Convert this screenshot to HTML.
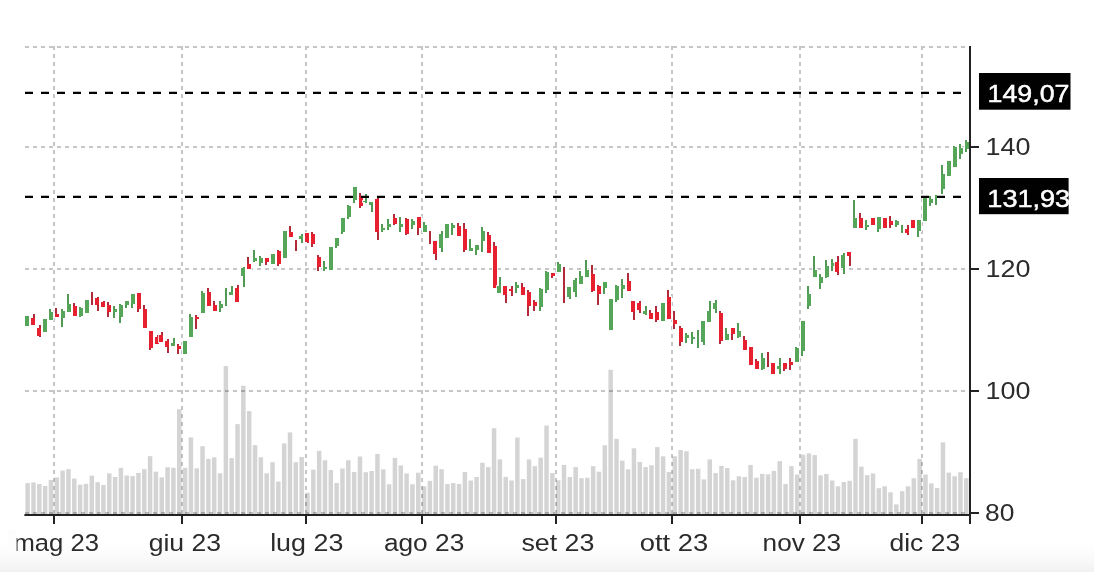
<!DOCTYPE html>
<html lang="it"><head><meta charset="utf-8"><title>Grafico</title>
<style>html,body{margin:0;padding:0;background:#fff}body{width:1094px;height:572px;overflow:hidden}svg{display:block}text{font-family:"Liberation Sans",sans-serif;font-size:24px;fill:#2b2b2b}.b{fill:#fff;stroke:#fff;stroke-width:0.5px}</style>
</head><body>
<svg width="1094" height="572" viewBox="0 0 1094 572">
<defs><linearGradient id="fade" x1="0" y1="0" x2="0" y2="1"><stop offset="0" stop-color="#fff" stop-opacity="0"/><stop offset="1" stop-color="#f1f1f1"/></linearGradient></defs>
<rect width="1094" height="572" fill="#fff"/>
<rect x="0" y="536" width="1094" height="36" fill="url(#fade)"/>
<g stroke="#c6c6c6" stroke-width="2" stroke-dasharray="4 4" shape-rendering="crispEdges" fill="none">
<line x1="25" y1="47" x2="969" y2="47"/>
<line x1="25" y1="147" x2="969" y2="147"/>
<line x1="25" y1="269" x2="969" y2="269"/>
<line x1="25" y1="391" x2="969" y2="391"/>
<line x1="25" y1="513" x2="969" y2="513"/>
<line x1="54" y1="46" x2="54" y2="515"/>
<line x1="182" y1="46" x2="182" y2="515"/>
<line x1="306" y1="46" x2="306" y2="515"/>
<line x1="422" y1="46" x2="422" y2="515"/>
<line x1="556" y1="46" x2="556" y2="515"/>
<line x1="672" y1="46" x2="672" y2="515"/>
<line x1="800" y1="46" x2="800" y2="515"/>
<line x1="922" y1="46" x2="922" y2="515"/>
</g>
<g fill="#000" fill-opacity="0.17">
<rect x="25.40" y="483.1" width="4.5" height="31.9"/>
<rect x="31.23" y="482.4" width="4.5" height="32.6"/>
<rect x="37.06" y="484.0" width="4.5" height="31.0"/>
<rect x="42.89" y="486.0" width="4.5" height="29.0"/>
<rect x="48.72" y="479.9" width="4.5" height="35.1"/>
<rect x="54.55" y="477.4" width="4.5" height="37.6"/>
<rect x="60.38" y="470.6" width="4.5" height="44.4"/>
<rect x="66.21" y="469.1" width="4.5" height="45.9"/>
<rect x="72.04" y="478.5" width="4.5" height="36.5"/>
<rect x="77.87" y="484.7" width="4.5" height="30.3"/>
<rect x="83.70" y="483.8" width="4.5" height="31.2"/>
<rect x="89.53" y="475.7" width="4.5" height="39.3"/>
<rect x="95.36" y="482.1" width="4.5" height="32.9"/>
<rect x="101.19" y="484.9" width="4.5" height="30.1"/>
<rect x="107.02" y="473.4" width="4.5" height="41.6"/>
<rect x="112.85" y="477.0" width="4.5" height="38.0"/>
<rect x="118.68" y="467.8" width="4.5" height="47.2"/>
<rect x="124.51" y="475.5" width="4.5" height="39.5"/>
<rect x="130.34" y="476.1" width="4.5" height="38.9"/>
<rect x="136.17" y="472.9" width="4.5" height="42.1"/>
<rect x="142.00" y="469.1" width="4.5" height="45.9"/>
<rect x="147.83" y="456.1" width="4.5" height="58.9"/>
<rect x="153.66" y="471.7" width="4.5" height="43.3"/>
<rect x="159.49" y="477.4" width="4.5" height="37.6"/>
<rect x="165.32" y="467.2" width="4.5" height="47.8"/>
<rect x="171.15" y="467.8" width="4.5" height="47.2"/>
<rect x="176.98" y="409.2" width="4.5" height="105.8"/>
<rect x="182.81" y="467.8" width="4.5" height="47.2"/>
<rect x="188.64" y="437.4" width="4.5" height="77.6"/>
<rect x="194.47" y="468.3" width="4.5" height="46.7"/>
<rect x="200.30" y="446.2" width="4.5" height="68.8"/>
<rect x="206.13" y="458.9" width="4.5" height="56.1"/>
<rect x="211.96" y="457.3" width="4.5" height="57.7"/>
<rect x="217.79" y="473.3" width="4.5" height="41.7"/>
<rect x="223.62" y="366.1" width="4.5" height="148.9"/>
<rect x="229.45" y="458.1" width="4.5" height="56.9"/>
<rect x="235.28" y="424.1" width="4.5" height="90.9"/>
<rect x="241.11" y="385.7" width="4.5" height="129.3"/>
<rect x="246.94" y="411.1" width="4.5" height="103.9"/>
<rect x="252.77" y="445.1" width="4.5" height="69.9"/>
<rect x="258.60" y="457.3" width="4.5" height="57.7"/>
<rect x="264.43" y="473.3" width="4.5" height="41.7"/>
<rect x="270.26" y="462.2" width="4.5" height="52.8"/>
<rect x="276.09" y="481.6" width="4.5" height="33.4"/>
<rect x="281.92" y="443.4" width="4.5" height="71.6"/>
<rect x="287.75" y="432.4" width="4.5" height="82.6"/>
<rect x="293.58" y="462.2" width="4.5" height="52.8"/>
<rect x="299.41" y="457.0" width="4.5" height="58.0"/>
<rect x="305.24" y="492.7" width="4.5" height="22.3"/>
<rect x="311.07" y="469.7" width="4.5" height="45.3"/>
<rect x="316.90" y="450.8" width="4.5" height="64.2"/>
<rect x="322.73" y="460.2" width="4.5" height="54.8"/>
<rect x="328.56" y="470.0" width="4.5" height="45.0"/>
<rect x="334.39" y="483.0" width="4.5" height="32.0"/>
<rect x="340.22" y="468.5" width="4.5" height="46.5"/>
<rect x="346.05" y="460.2" width="4.5" height="54.8"/>
<rect x="351.88" y="471.9" width="4.5" height="43.1"/>
<rect x="357.71" y="456.5" width="4.5" height="58.5"/>
<rect x="363.54" y="472.2" width="4.5" height="42.8"/>
<rect x="369.37" y="471.0" width="4.5" height="44.0"/>
<rect x="375.20" y="453.9" width="4.5" height="61.1"/>
<rect x="381.03" y="469.3" width="4.5" height="45.7"/>
<rect x="386.86" y="484.2" width="4.5" height="30.8"/>
<rect x="392.69" y="458.0" width="4.5" height="57.0"/>
<rect x="398.52" y="465.4" width="4.5" height="49.6"/>
<rect x="404.35" y="473.4" width="4.5" height="41.6"/>
<rect x="410.18" y="484.2" width="4.5" height="30.8"/>
<rect x="416.01" y="472.7" width="4.5" height="42.3"/>
<rect x="421.84" y="486.3" width="4.5" height="28.7"/>
<rect x="427.67" y="480.8" width="4.5" height="34.2"/>
<rect x="433.50" y="465.7" width="4.5" height="49.3"/>
<rect x="439.33" y="469.2" width="4.5" height="45.8"/>
<rect x="445.16" y="483.9" width="4.5" height="31.1"/>
<rect x="450.99" y="483.0" width="4.5" height="32.0"/>
<rect x="456.82" y="483.9" width="4.5" height="31.1"/>
<rect x="462.65" y="471.9" width="4.5" height="43.1"/>
<rect x="468.48" y="480.5" width="4.5" height="34.5"/>
<rect x="474.31" y="477.0" width="4.5" height="38.0"/>
<rect x="480.14" y="462.8" width="4.5" height="52.2"/>
<rect x="485.97" y="467.1" width="4.5" height="47.9"/>
<rect x="491.80" y="428.2" width="4.5" height="86.8"/>
<rect x="497.63" y="459.4" width="4.5" height="55.6"/>
<rect x="503.46" y="476.9" width="4.5" height="38.1"/>
<rect x="509.29" y="480.5" width="4.5" height="34.5"/>
<rect x="515.12" y="437.5" width="4.5" height="77.5"/>
<rect x="520.95" y="479.1" width="4.5" height="35.9"/>
<rect x="526.78" y="459.4" width="4.5" height="55.6"/>
<rect x="532.61" y="466.2" width="4.5" height="48.8"/>
<rect x="538.44" y="457.7" width="4.5" height="57.3"/>
<rect x="544.27" y="425.5" width="4.5" height="89.5"/>
<rect x="550.10" y="473.1" width="4.5" height="41.9"/>
<rect x="555.93" y="480.3" width="4.5" height="34.7"/>
<rect x="561.76" y="464.9" width="4.5" height="50.1"/>
<rect x="567.59" y="477.0" width="4.5" height="38.0"/>
<rect x="573.42" y="467.1" width="4.5" height="47.9"/>
<rect x="579.25" y="478.2" width="4.5" height="36.8"/>
<rect x="585.08" y="477.7" width="4.5" height="37.3"/>
<rect x="590.91" y="466.2" width="4.5" height="48.8"/>
<rect x="596.74" y="471.7" width="4.5" height="43.3"/>
<rect x="602.57" y="445.2" width="4.5" height="69.8"/>
<rect x="608.40" y="369.8" width="4.5" height="145.2"/>
<rect x="614.23" y="438.8" width="4.5" height="76.2"/>
<rect x="620.06" y="460.6" width="4.5" height="54.4"/>
<rect x="625.89" y="469.3" width="4.5" height="45.7"/>
<rect x="631.72" y="448.3" width="4.5" height="66.7"/>
<rect x="637.55" y="462.0" width="4.5" height="53.0"/>
<rect x="643.38" y="467.1" width="4.5" height="47.9"/>
<rect x="649.21" y="465.2" width="4.5" height="49.8"/>
<rect x="655.04" y="447.1" width="4.5" height="67.9"/>
<rect x="660.87" y="456.3" width="4.5" height="58.7"/>
<rect x="666.70" y="471.9" width="4.5" height="43.1"/>
<rect x="672.53" y="456.3" width="4.5" height="58.7"/>
<rect x="678.36" y="450.0" width="4.5" height="65.0"/>
<rect x="684.19" y="451.3" width="4.5" height="63.7"/>
<rect x="690.02" y="469.2" width="4.5" height="45.8"/>
<rect x="695.85" y="468.8" width="4.5" height="46.2"/>
<rect x="701.68" y="479.4" width="4.5" height="35.6"/>
<rect x="707.51" y="459.4" width="4.5" height="55.6"/>
<rect x="713.34" y="473.1" width="4.5" height="41.9"/>
<rect x="719.17" y="465.9" width="4.5" height="49.1"/>
<rect x="725.00" y="468.0" width="4.5" height="47.0"/>
<rect x="730.83" y="480.3" width="4.5" height="34.7"/>
<rect x="736.66" y="476.2" width="4.5" height="38.8"/>
<rect x="742.49" y="477.0" width="4.5" height="38.0"/>
<rect x="748.32" y="465.0" width="4.5" height="50.0"/>
<rect x="754.15" y="477.7" width="4.5" height="37.3"/>
<rect x="759.98" y="473.9" width="4.5" height="41.1"/>
<rect x="765.81" y="474.3" width="4.5" height="40.7"/>
<rect x="771.64" y="470.9" width="4.5" height="44.1"/>
<rect x="777.47" y="461.1" width="4.5" height="53.9"/>
<rect x="783.30" y="483.9" width="4.5" height="31.1"/>
<rect x="789.13" y="466.2" width="4.5" height="48.8"/>
<rect x="794.96" y="474.5" width="4.5" height="40.5"/>
<rect x="800.79" y="454.6" width="4.5" height="60.4"/>
<rect x="806.62" y="453.4" width="4.5" height="61.6"/>
<rect x="812.45" y="455.1" width="4.5" height="59.9"/>
<rect x="818.28" y="475.3" width="4.5" height="39.7"/>
<rect x="824.11" y="473.9" width="4.5" height="41.1"/>
<rect x="829.94" y="480.5" width="4.5" height="34.5"/>
<rect x="835.77" y="486.3" width="4.5" height="28.7"/>
<rect x="841.60" y="482.0" width="4.5" height="33.0"/>
<rect x="847.43" y="480.8" width="4.5" height="34.2"/>
<rect x="853.26" y="438.8" width="4.5" height="76.2"/>
<rect x="859.09" y="466.6" width="4.5" height="48.4"/>
<rect x="864.92" y="475.1" width="4.5" height="39.9"/>
<rect x="870.75" y="473.4" width="4.5" height="41.6"/>
<rect x="876.58" y="488.2" width="4.5" height="26.8"/>
<rect x="882.41" y="486.3" width="4.5" height="28.7"/>
<rect x="888.24" y="492.3" width="4.5" height="22.7"/>
<rect x="894.07" y="504.4" width="4.5" height="10.6"/>
<rect x="899.90" y="491.1" width="4.5" height="23.9"/>
<rect x="905.73" y="486.3" width="4.5" height="28.7"/>
<rect x="911.56" y="478.2" width="4.5" height="36.8"/>
<rect x="917.39" y="458.9" width="4.5" height="56.1"/>
<rect x="923.22" y="474.5" width="4.5" height="40.5"/>
<rect x="929.05" y="483.4" width="4.5" height="31.6"/>
<rect x="934.88" y="488.0" width="4.5" height="27.0"/>
<rect x="940.71" y="442.3" width="4.5" height="72.7"/>
<rect x="946.54" y="472.6" width="4.5" height="42.4"/>
<rect x="952.37" y="476.2" width="4.5" height="38.8"/>
<rect x="958.20" y="472.2" width="4.5" height="42.8"/>
<rect x="964.03" y="478.2" width="4.5" height="36.8"/>
</g>
<g shape-rendering="crispEdges">
<rect x="26" y="315.0" width="4" height="12.2" fill="#fff" fill-opacity="0.8"/>
<rect x="24" y="315.0" width="6" height="11.6" fill="#fff" fill-opacity="0.8"/>
<rect x="27" y="316.0" width="2" height="10.2" fill="#509a55"/>
<rect x="25" y="316.0" width="4" height="9.6" fill="#55a658"/>
<rect x="32" y="313.1" width="4" height="12.6" fill="#fff" fill-opacity="0.8"/>
<rect x="30" y="316.9" width="6" height="8.8" fill="#fff" fill-opacity="0.8"/>
<rect x="33" y="314.1" width="2" height="10.6" fill="#b02a3a"/>
<rect x="31" y="317.9" width="4" height="6.8" fill="#e6202f"/>
<rect x="38" y="324.2" width="4" height="13.5" fill="#fff" fill-opacity="0.8"/>
<rect x="36" y="326.5" width="6" height="10.7" fill="#fff" fill-opacity="0.8"/>
<rect x="39" y="325.2" width="2" height="11.5" fill="#b02a3a"/>
<rect x="37" y="327.5" width="4" height="8.7" fill="#e6202f"/>
<rect x="42" y="317.8" width="4" height="15.6" fill="#fff" fill-opacity="0.8"/>
<rect x="42" y="317.8" width="6" height="15.6" fill="#fff" fill-opacity="0.8"/>
<rect x="43" y="318.8" width="2" height="13.6" fill="#509a55"/>
<rect x="43" y="318.8" width="4" height="13.6" fill="#55a658"/>
<rect x="48" y="308.3" width="4" height="12.3" fill="#fff" fill-opacity="0.8"/>
<rect x="48" y="310.5" width="6" height="10.1" fill="#fff" fill-opacity="0.8"/>
<rect x="49" y="309.3" width="2" height="10.3" fill="#509a55"/>
<rect x="49" y="311.5" width="4" height="8.1" fill="#55a658"/>
<rect x="54" y="306.9" width="4" height="10.7" fill="#fff" fill-opacity="0.8"/>
<rect x="54" y="313.1" width="6" height="4.9" fill="#fff" fill-opacity="0.8"/>
<rect x="55" y="307.9" width="2" height="8.7" fill="#b02a3a"/>
<rect x="55" y="314.1" width="4" height="2.9" fill="#e6202f"/>
<rect x="60" y="308.2" width="4" height="19.7" fill="#fff" fill-opacity="0.8"/>
<rect x="60" y="309.5" width="6" height="9.0" fill="#fff" fill-opacity="0.8"/>
<rect x="61" y="309.2" width="2" height="17.7" fill="#509a55"/>
<rect x="61" y="310.5" width="4" height="7.0" fill="#55a658"/>
<rect x="66" y="293.2" width="4" height="19.3" fill="#fff" fill-opacity="0.8"/>
<rect x="66" y="302.8" width="6" height="9.7" fill="#fff" fill-opacity="0.8"/>
<rect x="67" y="294.2" width="2" height="17.3" fill="#509a55"/>
<rect x="67" y="303.8" width="4" height="7.7" fill="#55a658"/>
<rect x="72" y="302.2" width="4" height="15.2" fill="#fff" fill-opacity="0.8"/>
<rect x="72" y="304.8" width="6" height="12.6" fill="#fff" fill-opacity="0.8"/>
<rect x="73" y="303.2" width="2" height="13.2" fill="#b02a3a"/>
<rect x="73" y="305.8" width="4" height="10.6" fill="#e6202f"/>
<rect x="78" y="306.0" width="4" height="11.9" fill="#fff" fill-opacity="0.8"/>
<rect x="78" y="306.7" width="6" height="10.3" fill="#fff" fill-opacity="0.8"/>
<rect x="79" y="307.0" width="2" height="9.9" fill="#509a55"/>
<rect x="79" y="307.7" width="4" height="8.3" fill="#55a658"/>
<rect x="84" y="299.3" width="4" height="14.9" fill="#fff" fill-opacity="0.8"/>
<rect x="84" y="299.3" width="6" height="14.9" fill="#fff" fill-opacity="0.8"/>
<rect x="85" y="300.3" width="2" height="12.9" fill="#509a55"/>
<rect x="85" y="300.3" width="4" height="12.9" fill="#55a658"/>
<rect x="90" y="291.3" width="4" height="14.2" fill="#fff" fill-opacity="0.8"/>
<rect x="91" y="292.3" width="2" height="12.2" fill="#b02a3a"/>
<rect x="96" y="295.8" width="4" height="16.1" fill="#fff" fill-opacity="0.8"/>
<rect x="94" y="296.8" width="6" height="9.3" fill="#fff" fill-opacity="0.8"/>
<rect x="97" y="296.8" width="2" height="14.1" fill="#b02a3a"/>
<rect x="95" y="297.8" width="4" height="7.3" fill="#e6202f"/>
<rect x="102" y="299.9" width="4" height="7.8" fill="#fff" fill-opacity="0.8"/>
<rect x="100" y="300.9" width="6" height="6.8" fill="#fff" fill-opacity="0.8"/>
<rect x="103" y="300.9" width="2" height="5.8" fill="#b02a3a"/>
<rect x="101" y="301.9" width="4" height="4.8" fill="#e6202f"/>
<rect x="106" y="300.9" width="4" height="17.0" fill="#fff" fill-opacity="0.8"/>
<rect x="106" y="304.1" width="6" height="8.4" fill="#fff" fill-opacity="0.8"/>
<rect x="107" y="301.9" width="2" height="15.0" fill="#b02a3a"/>
<rect x="107" y="305.1" width="4" height="6.4" fill="#e6202f"/>
<rect x="112" y="305.4" width="4" height="13.1" fill="#fff" fill-opacity="0.8"/>
<rect x="112" y="308.2" width="6" height="4.3" fill="#fff" fill-opacity="0.8"/>
<rect x="113" y="306.4" width="2" height="11.1" fill="#509a55"/>
<rect x="113" y="309.2" width="4" height="2.3" fill="#55a658"/>
<rect x="118" y="303.2" width="4" height="21.1" fill="#fff" fill-opacity="0.8"/>
<rect x="118" y="304.1" width="6" height="13.8" fill="#fff" fill-opacity="0.8"/>
<rect x="119" y="304.2" width="2" height="19.1" fill="#509a55"/>
<rect x="119" y="305.1" width="4" height="11.8" fill="#55a658"/>
<rect x="124" y="300.3" width="4" height="8.4" fill="#fff" fill-opacity="0.8"/>
<rect x="124" y="300.3" width="6" height="5.8" fill="#fff" fill-opacity="0.8"/>
<rect x="125" y="301.3" width="2" height="6.4" fill="#509a55"/>
<rect x="125" y="301.3" width="4" height="3.8" fill="#55a658"/>
<rect x="130" y="293.0" width="4" height="16.3" fill="#fff" fill-opacity="0.8"/>
<rect x="130" y="293.0" width="6" height="11.8" fill="#fff" fill-opacity="0.8"/>
<rect x="131" y="294.0" width="2" height="14.3" fill="#509a55"/>
<rect x="131" y="294.0" width="4" height="9.8" fill="#55a658"/>
<rect x="136" y="292.0" width="4" height="21.4" fill="#fff" fill-opacity="0.8"/>
<rect x="136" y="292.0" width="6" height="18.0" fill="#fff" fill-opacity="0.8"/>
<rect x="137" y="293.0" width="2" height="19.4" fill="#b02a3a"/>
<rect x="137" y="293.0" width="4" height="16.0" fill="#e6202f"/>
<rect x="142" y="304.1" width="4" height="24.4" fill="#fff" fill-opacity="0.8"/>
<rect x="142" y="307.6" width="6" height="20.9" fill="#fff" fill-opacity="0.8"/>
<rect x="143" y="305.1" width="2" height="22.4" fill="#b02a3a"/>
<rect x="143" y="308.6" width="4" height="18.9" fill="#e6202f"/>
<rect x="148" y="330.1" width="4" height="20.4" fill="#fff" fill-opacity="0.8"/>
<rect x="148" y="330.1" width="6" height="18.9" fill="#fff" fill-opacity="0.8"/>
<rect x="149" y="331.1" width="2" height="18.4" fill="#b02a3a"/>
<rect x="149" y="331.1" width="4" height="16.9" fill="#e6202f"/>
<rect x="156" y="333.5" width="4" height="11.0" fill="#fff" fill-opacity="0.8"/>
<rect x="154" y="336.1" width="6" height="8.4" fill="#fff" fill-opacity="0.8"/>
<rect x="157" y="334.5" width="2" height="9.0" fill="#b02a3a"/>
<rect x="155" y="337.1" width="4" height="6.4" fill="#e6202f"/>
<rect x="160" y="331.4" width="4" height="11.8" fill="#fff" fill-opacity="0.8"/>
<rect x="158" y="334.3" width="6" height="8.9" fill="#fff" fill-opacity="0.8"/>
<rect x="161" y="332.4" width="2" height="9.8" fill="#b02a3a"/>
<rect x="159" y="335.3" width="4" height="6.9" fill="#e6202f"/>
<rect x="166" y="338.0" width="4" height="15.5" fill="#fff" fill-opacity="0.8"/>
<rect x="164" y="340.0" width="6" height="7.7" fill="#fff" fill-opacity="0.8"/>
<rect x="167" y="339.0" width="2" height="13.5" fill="#b02a3a"/>
<rect x="165" y="341.0" width="4" height="5.7" fill="#e6202f"/>
<rect x="172" y="336.7" width="4" height="10.4" fill="#fff" fill-opacity="0.8"/>
<rect x="170" y="341.9" width="6" height="5.2" fill="#fff" fill-opacity="0.8"/>
<rect x="173" y="337.7" width="2" height="8.4" fill="#509a55"/>
<rect x="171" y="342.9" width="4" height="3.2" fill="#55a658"/>
<rect x="176" y="342.5" width="4" height="12.9" fill="#fff" fill-opacity="0.8"/>
<rect x="176" y="344.8" width="6" height="4.8" fill="#fff" fill-opacity="0.8"/>
<rect x="177" y="343.5" width="2" height="10.9" fill="#b02a3a"/>
<rect x="177" y="345.8" width="4" height="2.8" fill="#e6202f"/>
<rect x="182" y="340.0" width="4" height="15.4" fill="#fff" fill-opacity="0.8"/>
<rect x="182" y="340.0" width="6" height="15.4" fill="#fff" fill-opacity="0.8"/>
<rect x="183" y="341.0" width="2" height="13.4" fill="#509a55"/>
<rect x="183" y="341.0" width="4" height="13.4" fill="#55a658"/>
<rect x="188" y="312.7" width="4" height="25.0" fill="#fff" fill-opacity="0.8"/>
<rect x="188" y="316.0" width="6" height="21.7" fill="#fff" fill-opacity="0.8"/>
<rect x="189" y="313.7" width="2" height="23.0" fill="#509a55"/>
<rect x="189" y="317.0" width="4" height="19.7" fill="#55a658"/>
<rect x="194" y="313.7" width="4" height="15.8" fill="#fff" fill-opacity="0.8"/>
<rect x="194" y="316.0" width="6" height="4.2" fill="#fff" fill-opacity="0.8"/>
<rect x="195" y="314.7" width="2" height="13.8" fill="#b02a3a"/>
<rect x="195" y="317.0" width="4" height="2.2" fill="#e6202f"/>
<rect x="200" y="290.4" width="4" height="24.0" fill="#fff" fill-opacity="0.8"/>
<rect x="200" y="291.7" width="6" height="22.7" fill="#fff" fill-opacity="0.8"/>
<rect x="201" y="291.4" width="2" height="22.0" fill="#509a55"/>
<rect x="201" y="292.7" width="4" height="20.7" fill="#55a658"/>
<rect x="206" y="286.6" width="4" height="20.8" fill="#fff" fill-opacity="0.8"/>
<rect x="206" y="291.3" width="6" height="16.1" fill="#fff" fill-opacity="0.8"/>
<rect x="207" y="287.6" width="2" height="18.8" fill="#b02a3a"/>
<rect x="207" y="292.3" width="4" height="14.1" fill="#e6202f"/>
<rect x="212" y="299.6" width="4" height="11.9" fill="#fff" fill-opacity="0.8"/>
<rect x="212" y="303.5" width="6" height="8.0" fill="#fff" fill-opacity="0.8"/>
<rect x="213" y="300.6" width="2" height="9.9" fill="#b02a3a"/>
<rect x="213" y="304.5" width="4" height="6.0" fill="#e6202f"/>
<rect x="218" y="300.3" width="4" height="13.1" fill="#fff" fill-opacity="0.8"/>
<rect x="218" y="302.8" width="6" height="6.5" fill="#fff" fill-opacity="0.8"/>
<rect x="219" y="301.3" width="2" height="11.1" fill="#509a55"/>
<rect x="219" y="303.8" width="4" height="4.5" fill="#55a658"/>
<rect x="224" y="286.8" width="4" height="19.7" fill="#fff" fill-opacity="0.8"/>
<rect x="225" y="287.8" width="2" height="17.7" fill="#509a55"/>
<rect x="230" y="285.3" width="4" height="11.0" fill="#fff" fill-opacity="0.8"/>
<rect x="228" y="291.3" width="6" height="4.6" fill="#fff" fill-opacity="0.8"/>
<rect x="231" y="286.3" width="2" height="9.0" fill="#509a55"/>
<rect x="229" y="292.3" width="4" height="2.6" fill="#55a658"/>
<rect x="236" y="284.3" width="4" height="18.9" fill="#fff" fill-opacity="0.8"/>
<rect x="234" y="286.6" width="6" height="16.1" fill="#fff" fill-opacity="0.8"/>
<rect x="237" y="285.3" width="2" height="16.9" fill="#b02a3a"/>
<rect x="235" y="287.6" width="4" height="14.1" fill="#e6202f"/>
<rect x="242" y="266.1" width="4" height="21.4" fill="#fff" fill-opacity="0.8"/>
<rect x="240" y="267.4" width="6" height="9.9" fill="#fff" fill-opacity="0.8"/>
<rect x="243" y="267.1" width="2" height="19.4" fill="#509a55"/>
<rect x="241" y="268.4" width="4" height="7.9" fill="#55a658"/>
<rect x="246" y="256.1" width="4" height="14.2" fill="#fff" fill-opacity="0.8"/>
<rect x="246" y="262.5" width="6" height="7.8" fill="#fff" fill-opacity="0.8"/>
<rect x="247" y="257.1" width="2" height="12.2" fill="#b02a3a"/>
<rect x="247" y="263.5" width="4" height="5.8" fill="#e6202f"/>
<rect x="252" y="249.3" width="4" height="13.3" fill="#fff" fill-opacity="0.8"/>
<rect x="252" y="257.4" width="6" height="4.3" fill="#fff" fill-opacity="0.8"/>
<rect x="253" y="250.3" width="2" height="11.3" fill="#509a55"/>
<rect x="253" y="258.4" width="4" height="2.3" fill="#55a658"/>
<rect x="258" y="255.2" width="4" height="11.9" fill="#fff" fill-opacity="0.8"/>
<rect x="258" y="256.8" width="6" height="7.1" fill="#fff" fill-opacity="0.8"/>
<rect x="259" y="256.2" width="2" height="9.9" fill="#509a55"/>
<rect x="259" y="257.8" width="4" height="5.1" fill="#55a658"/>
<rect x="264" y="256.5" width="4" height="9.3" fill="#fff" fill-opacity="0.8"/>
<rect x="264" y="256.5" width="6" height="6.7" fill="#fff" fill-opacity="0.8"/>
<rect x="265" y="257.5" width="2" height="7.3" fill="#b02a3a"/>
<rect x="265" y="257.5" width="4" height="4.7" fill="#e6202f"/>
<rect x="270" y="252.9" width="4" height="11.6" fill="#fff" fill-opacity="0.8"/>
<rect x="270" y="252.9" width="6" height="11.6" fill="#fff" fill-opacity="0.8"/>
<rect x="271" y="253.9" width="2" height="9.6" fill="#509a55"/>
<rect x="271" y="253.9" width="4" height="9.6" fill="#55a658"/>
<rect x="276" y="249.3" width="4" height="17.8" fill="#fff" fill-opacity="0.8"/>
<rect x="276" y="249.7" width="6" height="14.8" fill="#fff" fill-opacity="0.8"/>
<rect x="277" y="250.3" width="2" height="15.8" fill="#b02a3a"/>
<rect x="277" y="250.7" width="4" height="12.8" fill="#e6202f"/>
<rect x="282" y="229.5" width="4" height="29.9" fill="#fff" fill-opacity="0.8"/>
<rect x="282" y="229.5" width="6" height="29.9" fill="#fff" fill-opacity="0.8"/>
<rect x="283" y="230.5" width="2" height="27.9" fill="#509a55"/>
<rect x="283" y="230.5" width="4" height="27.9" fill="#55a658"/>
<rect x="288" y="225.0" width="4" height="13.3" fill="#fff" fill-opacity="0.8"/>
<rect x="288" y="230.8" width="6" height="6.8" fill="#fff" fill-opacity="0.8"/>
<rect x="289" y="226.0" width="2" height="11.3" fill="#b02a3a"/>
<rect x="289" y="231.8" width="4" height="4.8" fill="#e6202f"/>
<rect x="294" y="239.1" width="4" height="12.6" fill="#fff" fill-opacity="0.8"/>
<rect x="295" y="240.1" width="2" height="10.6" fill="#b02a3a"/>
<rect x="300" y="233.1" width="4" height="10.7" fill="#fff" fill-opacity="0.8"/>
<rect x="298" y="234.6" width="6" height="5.6" fill="#fff" fill-opacity="0.8"/>
<rect x="301" y="234.1" width="2" height="8.7" fill="#509a55"/>
<rect x="299" y="235.6" width="4" height="3.6" fill="#55a658"/>
<rect x="306" y="232.2" width="4" height="11.6" fill="#fff" fill-opacity="0.8"/>
<rect x="304" y="232.2" width="6" height="10.6" fill="#fff" fill-opacity="0.8"/>
<rect x="307" y="233.2" width="2" height="9.6" fill="#b02a3a"/>
<rect x="305" y="233.2" width="4" height="8.6" fill="#e6202f"/>
<rect x="310" y="231.4" width="4" height="16.5" fill="#fff" fill-opacity="0.8"/>
<rect x="310" y="233.1" width="6" height="11.6" fill="#fff" fill-opacity="0.8"/>
<rect x="311" y="232.4" width="2" height="14.5" fill="#b02a3a"/>
<rect x="311" y="234.1" width="4" height="9.6" fill="#e6202f"/>
<rect x="316" y="254.2" width="4" height="18.0" fill="#fff" fill-opacity="0.8"/>
<rect x="316" y="255.9" width="6" height="11.8" fill="#fff" fill-opacity="0.8"/>
<rect x="317" y="255.2" width="2" height="16.0" fill="#b02a3a"/>
<rect x="317" y="256.9" width="4" height="9.8" fill="#e6202f"/>
<rect x="322" y="259.7" width="4" height="11.9" fill="#fff" fill-opacity="0.8"/>
<rect x="322" y="266.4" width="6" height="3.9" fill="#fff" fill-opacity="0.8"/>
<rect x="323" y="260.7" width="2" height="9.9" fill="#509a55"/>
<rect x="323" y="267.4" width="4" height="1.9" fill="#55a658"/>
<rect x="328" y="246.1" width="4" height="25.2" fill="#fff" fill-opacity="0.8"/>
<rect x="328" y="246.1" width="6" height="25.2" fill="#fff" fill-opacity="0.8"/>
<rect x="329" y="247.1" width="2" height="23.2" fill="#509a55"/>
<rect x="329" y="247.1" width="4" height="23.2" fill="#55a658"/>
<rect x="334" y="237.3" width="4" height="12.1" fill="#fff" fill-opacity="0.8"/>
<rect x="334" y="237.3" width="6" height="9.4" fill="#fff" fill-opacity="0.8"/>
<rect x="335" y="238.3" width="2" height="10.1" fill="#509a55"/>
<rect x="335" y="238.3" width="4" height="7.4" fill="#55a658"/>
<rect x="340" y="216.5" width="4" height="18.9" fill="#fff" fill-opacity="0.8"/>
<rect x="340" y="216.5" width="6" height="16.3" fill="#fff" fill-opacity="0.8"/>
<rect x="341" y="217.5" width="2" height="16.9" fill="#509a55"/>
<rect x="341" y="217.5" width="4" height="14.3" fill="#55a658"/>
<rect x="346" y="204.3" width="4" height="16.0" fill="#fff" fill-opacity="0.8"/>
<rect x="346" y="205.2" width="6" height="12.9" fill="#fff" fill-opacity="0.8"/>
<rect x="347" y="205.3" width="2" height="14.0" fill="#509a55"/>
<rect x="347" y="206.2" width="4" height="10.9" fill="#55a658"/>
<rect x="352" y="186.4" width="4" height="17.6" fill="#fff" fill-opacity="0.8"/>
<rect x="352" y="186.4" width="6" height="14.4" fill="#fff" fill-opacity="0.8"/>
<rect x="353" y="187.4" width="2" height="15.6" fill="#509a55"/>
<rect x="353" y="187.4" width="4" height="12.4" fill="#55a658"/>
<rect x="358" y="191.8" width="4" height="17.1" fill="#fff" fill-opacity="0.8"/>
<rect x="358" y="195.6" width="6" height="11.6" fill="#fff" fill-opacity="0.8"/>
<rect x="359" y="192.8" width="2" height="15.1" fill="#b02a3a"/>
<rect x="359" y="196.6" width="4" height="9.6" fill="#e6202f"/>
<rect x="364" y="192.8" width="4" height="11.2" fill="#fff" fill-opacity="0.8"/>
<rect x="362" y="199.5" width="6" height="3.9" fill="#fff" fill-opacity="0.8"/>
<rect x="365" y="193.8" width="2" height="9.2" fill="#509a55"/>
<rect x="363" y="200.5" width="4" height="1.9" fill="#55a658"/>
<rect x="370" y="201.0" width="4" height="11.7" fill="#fff" fill-opacity="0.8"/>
<rect x="368" y="201.4" width="6" height="4.6" fill="#fff" fill-opacity="0.8"/>
<rect x="371" y="202.0" width="2" height="9.7" fill="#509a55"/>
<rect x="369" y="202.4" width="4" height="2.6" fill="#55a658"/>
<rect x="376" y="196.9" width="4" height="43.6" fill="#fff" fill-opacity="0.8"/>
<rect x="374" y="198.2" width="6" height="34.6" fill="#fff" fill-opacity="0.8"/>
<rect x="377" y="197.9" width="2" height="41.6" fill="#b02a3a"/>
<rect x="375" y="199.2" width="4" height="32.6" fill="#e6202f"/>
<rect x="380" y="223.2" width="4" height="9.6" fill="#fff" fill-opacity="0.8"/>
<rect x="380" y="227.0" width="6" height="4.2" fill="#fff" fill-opacity="0.8"/>
<rect x="381" y="224.2" width="2" height="7.6" fill="#509a55"/>
<rect x="381" y="228.0" width="4" height="2.2" fill="#55a658"/>
<rect x="386" y="218.3" width="4" height="12.4" fill="#fff" fill-opacity="0.8"/>
<rect x="386" y="222.5" width="6" height="5.9" fill="#fff" fill-opacity="0.8"/>
<rect x="387" y="219.3" width="2" height="10.4" fill="#509a55"/>
<rect x="387" y="223.5" width="4" height="3.9" fill="#55a658"/>
<rect x="392" y="212.9" width="4" height="13.5" fill="#fff" fill-opacity="0.8"/>
<rect x="392" y="217.0" width="6" height="7.9" fill="#fff" fill-opacity="0.8"/>
<rect x="393" y="213.9" width="2" height="11.5" fill="#b02a3a"/>
<rect x="393" y="218.0" width="4" height="5.9" fill="#e6202f"/>
<rect x="398" y="215.5" width="4" height="17.3" fill="#fff" fill-opacity="0.8"/>
<rect x="398" y="223.2" width="6" height="4.5" fill="#fff" fill-opacity="0.8"/>
<rect x="399" y="216.5" width="2" height="15.3" fill="#509a55"/>
<rect x="399" y="224.2" width="4" height="2.5" fill="#55a658"/>
<rect x="404" y="217.4" width="4" height="18.4" fill="#fff" fill-opacity="0.8"/>
<rect x="404" y="217.8" width="6" height="17.3" fill="#fff" fill-opacity="0.8"/>
<rect x="405" y="218.4" width="2" height="16.4" fill="#b02a3a"/>
<rect x="405" y="218.8" width="4" height="15.3" fill="#e6202f"/>
<rect x="410" y="218.0" width="4" height="12.3" fill="#fff" fill-opacity="0.8"/>
<rect x="410" y="219.7" width="6" height="6.7" fill="#fff" fill-opacity="0.8"/>
<rect x="411" y="219.0" width="2" height="10.3" fill="#509a55"/>
<rect x="411" y="220.7" width="4" height="4.7" fill="#55a658"/>
<rect x="416" y="216.4" width="4" height="19.4" fill="#fff" fill-opacity="0.8"/>
<rect x="416" y="216.4" width="6" height="12.6" fill="#fff" fill-opacity="0.8"/>
<rect x="417" y="217.4" width="2" height="17.4" fill="#b02a3a"/>
<rect x="417" y="217.4" width="4" height="10.6" fill="#e6202f"/>
<rect x="422" y="221.2" width="4" height="11.4" fill="#fff" fill-opacity="0.8"/>
<rect x="422" y="223.8" width="6" height="8.8" fill="#fff" fill-opacity="0.8"/>
<rect x="423" y="222.2" width="2" height="9.4" fill="#509a55"/>
<rect x="423" y="224.8" width="4" height="6.8" fill="#55a658"/>
<rect x="428" y="229.9" width="4" height="14.8" fill="#fff" fill-opacity="0.8"/>
<rect x="429" y="230.9" width="2" height="12.8" fill="#b02a3a"/>
<rect x="434" y="239.6" width="4" height="21.8" fill="#fff" fill-opacity="0.8"/>
<rect x="432" y="239.6" width="6" height="15.4" fill="#fff" fill-opacity="0.8"/>
<rect x="435" y="240.6" width="2" height="19.8" fill="#b02a3a"/>
<rect x="433" y="240.6" width="4" height="13.4" fill="#e6202f"/>
<rect x="440" y="230.0" width="4" height="23.4" fill="#fff" fill-opacity="0.8"/>
<rect x="438" y="233.3" width="6" height="15.9" fill="#fff" fill-opacity="0.8"/>
<rect x="441" y="231.0" width="2" height="21.4" fill="#509a55"/>
<rect x="439" y="234.3" width="4" height="13.9" fill="#55a658"/>
<rect x="444" y="222.7" width="4" height="16.3" fill="#fff" fill-opacity="0.8"/>
<rect x="444" y="222.7" width="6" height="16.3" fill="#fff" fill-opacity="0.8"/>
<rect x="445" y="223.7" width="2" height="14.3" fill="#509a55"/>
<rect x="445" y="223.7" width="4" height="14.3" fill="#55a658"/>
<rect x="450" y="222.3" width="4" height="13.3" fill="#fff" fill-opacity="0.8"/>
<rect x="450" y="223.7" width="6" height="5.4" fill="#fff" fill-opacity="0.8"/>
<rect x="451" y="223.3" width="2" height="11.3" fill="#509a55"/>
<rect x="451" y="224.7" width="4" height="3.4" fill="#55a658"/>
<rect x="456" y="222.2" width="4" height="14.5" fill="#fff" fill-opacity="0.8"/>
<rect x="456" y="225.0" width="6" height="11.7" fill="#fff" fill-opacity="0.8"/>
<rect x="457" y="223.2" width="2" height="12.5" fill="#b02a3a"/>
<rect x="457" y="226.0" width="4" height="9.7" fill="#e6202f"/>
<rect x="462" y="222.4" width="4" height="30.3" fill="#fff" fill-opacity="0.8"/>
<rect x="462" y="227.7" width="6" height="22.9" fill="#fff" fill-opacity="0.8"/>
<rect x="463" y="223.4" width="2" height="28.3" fill="#b02a3a"/>
<rect x="463" y="228.7" width="4" height="20.9" fill="#e6202f"/>
<rect x="468" y="238.3" width="4" height="13.3" fill="#fff" fill-opacity="0.8"/>
<rect x="468" y="247.0" width="6" height="4.6" fill="#fff" fill-opacity="0.8"/>
<rect x="469" y="239.3" width="2" height="11.3" fill="#509a55"/>
<rect x="469" y="248.0" width="4" height="2.6" fill="#55a658"/>
<rect x="474" y="243.7" width="4" height="12.6" fill="#fff" fill-opacity="0.8"/>
<rect x="474" y="243.7" width="6" height="6.9" fill="#fff" fill-opacity="0.8"/>
<rect x="475" y="244.7" width="2" height="10.6" fill="#509a55"/>
<rect x="475" y="244.7" width="4" height="4.9" fill="#55a658"/>
<rect x="480" y="225.8" width="4" height="27.6" fill="#fff" fill-opacity="0.8"/>
<rect x="480" y="230.0" width="6" height="11.6" fill="#fff" fill-opacity="0.8"/>
<rect x="481" y="226.8" width="2" height="25.6" fill="#509a55"/>
<rect x="481" y="231.0" width="4" height="9.6" fill="#55a658"/>
<rect x="486" y="231.0" width="4" height="23.4" fill="#fff" fill-opacity="0.8"/>
<rect x="486" y="233.8" width="6" height="20.6" fill="#fff" fill-opacity="0.8"/>
<rect x="487" y="232.0" width="2" height="21.4" fill="#b02a3a"/>
<rect x="487" y="234.8" width="4" height="18.6" fill="#e6202f"/>
<rect x="492" y="241.1" width="4" height="47.5" fill="#fff" fill-opacity="0.8"/>
<rect x="492" y="244.7" width="6" height="43.9" fill="#fff" fill-opacity="0.8"/>
<rect x="493" y="242.1" width="2" height="45.5" fill="#b02a3a"/>
<rect x="493" y="245.7" width="4" height="41.9" fill="#e6202f"/>
<rect x="498" y="276.4" width="4" height="18.0" fill="#fff" fill-opacity="0.8"/>
<rect x="496" y="285.4" width="6" height="8.4" fill="#fff" fill-opacity="0.8"/>
<rect x="499" y="277.4" width="2" height="16.0" fill="#509a55"/>
<rect x="497" y="286.4" width="4" height="6.4" fill="#55a658"/>
<rect x="504" y="285.4" width="4" height="18.2" fill="#fff" fill-opacity="0.8"/>
<rect x="502" y="285.4" width="6" height="10.3" fill="#fff" fill-opacity="0.8"/>
<rect x="505" y="286.4" width="2" height="16.2" fill="#b02a3a"/>
<rect x="503" y="286.4" width="4" height="8.3" fill="#e6202f"/>
<rect x="510" y="285.1" width="4" height="11.6" fill="#fff" fill-opacity="0.8"/>
<rect x="508" y="287.5" width="6" height="4.3" fill="#fff" fill-opacity="0.8"/>
<rect x="511" y="286.1" width="2" height="9.6" fill="#b02a3a"/>
<rect x="509" y="288.5" width="4" height="2.3" fill="#e6202f"/>
<rect x="514" y="280.6" width="4" height="13.5" fill="#fff" fill-opacity="0.8"/>
<rect x="514" y="284.1" width="6" height="4.5" fill="#fff" fill-opacity="0.8"/>
<rect x="515" y="281.6" width="2" height="11.5" fill="#509a55"/>
<rect x="515" y="285.1" width="4" height="2.5" fill="#55a658"/>
<rect x="520" y="281.5" width="4" height="14.2" fill="#fff" fill-opacity="0.8"/>
<rect x="520" y="286.0" width="6" height="9.7" fill="#fff" fill-opacity="0.8"/>
<rect x="521" y="282.5" width="2" height="12.2" fill="#b02a3a"/>
<rect x="521" y="287.0" width="4" height="7.7" fill="#e6202f"/>
<rect x="526" y="289.2" width="4" height="28.2" fill="#fff" fill-opacity="0.8"/>
<rect x="526" y="291.1" width="6" height="15.5" fill="#fff" fill-opacity="0.8"/>
<rect x="527" y="290.2" width="2" height="26.2" fill="#b02a3a"/>
<rect x="527" y="292.1" width="4" height="13.5" fill="#e6202f"/>
<rect x="532" y="299.4" width="4" height="12.3" fill="#fff" fill-opacity="0.8"/>
<rect x="532" y="301.4" width="6" height="5.5" fill="#fff" fill-opacity="0.8"/>
<rect x="533" y="300.4" width="2" height="10.3" fill="#b02a3a"/>
<rect x="533" y="302.4" width="4" height="3.5" fill="#e6202f"/>
<rect x="538" y="287.0" width="4" height="24.7" fill="#fff" fill-opacity="0.8"/>
<rect x="538" y="287.9" width="6" height="19.9" fill="#fff" fill-opacity="0.8"/>
<rect x="539" y="288.0" width="2" height="22.7" fill="#509a55"/>
<rect x="539" y="288.9" width="4" height="17.9" fill="#55a658"/>
<rect x="544" y="270.0" width="4" height="23.8" fill="#fff" fill-opacity="0.8"/>
<rect x="544" y="271.3" width="6" height="19.3" fill="#fff" fill-opacity="0.8"/>
<rect x="545" y="271.0" width="2" height="21.8" fill="#509a55"/>
<rect x="545" y="272.3" width="4" height="17.3" fill="#55a658"/>
<rect x="550" y="272.3" width="4" height="7.0" fill="#fff" fill-opacity="0.8"/>
<rect x="550" y="272.3" width="6" height="4.8" fill="#fff" fill-opacity="0.8"/>
<rect x="551" y="273.3" width="2" height="5.0" fill="#b02a3a"/>
<rect x="551" y="273.3" width="4" height="2.8" fill="#e6202f"/>
<rect x="556" y="261.0" width="4" height="12.3" fill="#fff" fill-opacity="0.8"/>
<rect x="556" y="263.0" width="6" height="9.6" fill="#fff" fill-opacity="0.8"/>
<rect x="557" y="262.0" width="2" height="10.3" fill="#509a55"/>
<rect x="557" y="264.0" width="4" height="7.6" fill="#55a658"/>
<rect x="562" y="266.2" width="4" height="37.4" fill="#fff" fill-opacity="0.8"/>
<rect x="563" y="267.2" width="2" height="35.4" fill="#b02a3a"/>
<rect x="568" y="286.0" width="4" height="14.4" fill="#fff" fill-opacity="0.8"/>
<rect x="566" y="286.0" width="6" height="12.2" fill="#fff" fill-opacity="0.8"/>
<rect x="569" y="287.0" width="2" height="12.4" fill="#509a55"/>
<rect x="567" y="287.0" width="4" height="10.2" fill="#55a658"/>
<rect x="574" y="276.8" width="4" height="21.2" fill="#fff" fill-opacity="0.8"/>
<rect x="572" y="279.0" width="6" height="14.1" fill="#fff" fill-opacity="0.8"/>
<rect x="575" y="277.8" width="2" height="19.2" fill="#509a55"/>
<rect x="573" y="280.0" width="4" height="12.1" fill="#55a658"/>
<rect x="578" y="270.4" width="4" height="14.4" fill="#fff" fill-opacity="0.8"/>
<rect x="578" y="275.1" width="6" height="9.7" fill="#fff" fill-opacity="0.8"/>
<rect x="579" y="271.4" width="2" height="12.4" fill="#509a55"/>
<rect x="579" y="276.1" width="4" height="7.7" fill="#55a658"/>
<rect x="584" y="259.1" width="4" height="19.3" fill="#fff" fill-opacity="0.8"/>
<rect x="584" y="269.1" width="6" height="9.3" fill="#fff" fill-opacity="0.8"/>
<rect x="585" y="260.1" width="2" height="17.3" fill="#509a55"/>
<rect x="585" y="270.1" width="4" height="7.3" fill="#55a658"/>
<rect x="590" y="264.2" width="4" height="28.9" fill="#fff" fill-opacity="0.8"/>
<rect x="590" y="273.2" width="6" height="19.0" fill="#fff" fill-opacity="0.8"/>
<rect x="591" y="265.2" width="2" height="26.9" fill="#b02a3a"/>
<rect x="591" y="274.2" width="4" height="17.0" fill="#e6202f"/>
<rect x="596" y="283.7" width="4" height="22.2" fill="#fff" fill-opacity="0.8"/>
<rect x="596" y="285.4" width="6" height="9.6" fill="#fff" fill-opacity="0.8"/>
<rect x="597" y="284.7" width="2" height="20.2" fill="#b02a3a"/>
<rect x="597" y="286.4" width="4" height="7.6" fill="#e6202f"/>
<rect x="602" y="281.2" width="4" height="14.0" fill="#fff" fill-opacity="0.8"/>
<rect x="602" y="281.2" width="6" height="7.5" fill="#fff" fill-opacity="0.8"/>
<rect x="603" y="282.2" width="2" height="12.0" fill="#509a55"/>
<rect x="603" y="282.2" width="4" height="5.5" fill="#55a658"/>
<rect x="608" y="298.4" width="4" height="32.6" fill="#fff" fill-opacity="0.8"/>
<rect x="608" y="298.4" width="6" height="32.6" fill="#fff" fill-opacity="0.8"/>
<rect x="609" y="299.4" width="2" height="30.6" fill="#509a55"/>
<rect x="609" y="299.4" width="4" height="30.6" fill="#55a658"/>
<rect x="614" y="284.0" width="4" height="18.8" fill="#fff" fill-opacity="0.8"/>
<rect x="614" y="284.8" width="6" height="15.7" fill="#fff" fill-opacity="0.8"/>
<rect x="615" y="285.0" width="2" height="16.8" fill="#509a55"/>
<rect x="615" y="285.8" width="4" height="13.7" fill="#55a658"/>
<rect x="620" y="278.4" width="4" height="20.1" fill="#fff" fill-opacity="0.8"/>
<rect x="620" y="283.8" width="6" height="5.8" fill="#fff" fill-opacity="0.8"/>
<rect x="621" y="279.4" width="2" height="18.1" fill="#509a55"/>
<rect x="621" y="284.8" width="4" height="3.8" fill="#55a658"/>
<rect x="626" y="271.9" width="4" height="19.9" fill="#fff" fill-opacity="0.8"/>
<rect x="626" y="280.0" width="6" height="11.8" fill="#fff" fill-opacity="0.8"/>
<rect x="627" y="272.9" width="2" height="17.9" fill="#b02a3a"/>
<rect x="627" y="281.0" width="4" height="9.8" fill="#e6202f"/>
<rect x="632" y="300.2" width="4" height="20.6" fill="#fff" fill-opacity="0.8"/>
<rect x="630" y="300.2" width="6" height="12.3" fill="#fff" fill-opacity="0.8"/>
<rect x="633" y="301.2" width="2" height="18.6" fill="#b02a3a"/>
<rect x="631" y="301.2" width="4" height="10.3" fill="#e6202f"/>
<rect x="638" y="300.2" width="4" height="14.2" fill="#fff" fill-opacity="0.8"/>
<rect x="636" y="301.5" width="6" height="9.1" fill="#fff" fill-opacity="0.8"/>
<rect x="639" y="301.2" width="2" height="12.2" fill="#b02a3a"/>
<rect x="637" y="302.5" width="4" height="7.1" fill="#e6202f"/>
<rect x="644" y="304.7" width="4" height="11.6" fill="#fff" fill-opacity="0.8"/>
<rect x="642" y="309.6" width="6" height="5.8" fill="#fff" fill-opacity="0.8"/>
<rect x="645" y="305.7" width="2" height="9.6" fill="#509a55"/>
<rect x="643" y="310.6" width="4" height="3.8" fill="#55a658"/>
<rect x="648" y="308.8" width="4" height="11.1" fill="#fff" fill-opacity="0.8"/>
<rect x="648" y="312.4" width="6" height="7.5" fill="#fff" fill-opacity="0.8"/>
<rect x="649" y="309.8" width="2" height="9.1" fill="#b02a3a"/>
<rect x="649" y="313.4" width="4" height="5.5" fill="#e6202f"/>
<rect x="654" y="305.1" width="4" height="17.6" fill="#fff" fill-opacity="0.8"/>
<rect x="654" y="310.5" width="6" height="10.9" fill="#fff" fill-opacity="0.8"/>
<rect x="655" y="306.1" width="2" height="15.6" fill="#b02a3a"/>
<rect x="655" y="311.5" width="4" height="8.9" fill="#e6202f"/>
<rect x="660" y="302.4" width="4" height="19.4" fill="#fff" fill-opacity="0.8"/>
<rect x="660" y="302.4" width="6" height="19.4" fill="#fff" fill-opacity="0.8"/>
<rect x="661" y="303.4" width="2" height="17.4" fill="#509a55"/>
<rect x="661" y="303.4" width="4" height="17.4" fill="#55a658"/>
<rect x="666" y="289.1" width="4" height="30.4" fill="#fff" fill-opacity="0.8"/>
<rect x="666" y="296.4" width="6" height="23.1" fill="#fff" fill-opacity="0.8"/>
<rect x="667" y="290.1" width="2" height="28.4" fill="#b02a3a"/>
<rect x="667" y="297.4" width="4" height="21.1" fill="#e6202f"/>
<rect x="672" y="309.6" width="4" height="20.8" fill="#fff" fill-opacity="0.8"/>
<rect x="672" y="319.4" width="6" height="5.5" fill="#fff" fill-opacity="0.8"/>
<rect x="673" y="310.6" width="2" height="18.8" fill="#b02a3a"/>
<rect x="673" y="320.4" width="4" height="3.5" fill="#e6202f"/>
<rect x="678" y="324.6" width="4" height="22.2" fill="#fff" fill-opacity="0.8"/>
<rect x="678" y="327.1" width="6" height="15.4" fill="#fff" fill-opacity="0.8"/>
<rect x="679" y="325.6" width="2" height="20.2" fill="#b02a3a"/>
<rect x="679" y="328.1" width="4" height="13.4" fill="#e6202f"/>
<rect x="684" y="331.6" width="4" height="12.2" fill="#fff" fill-opacity="0.8"/>
<rect x="684" y="333.5" width="6" height="5.2" fill="#fff" fill-opacity="0.8"/>
<rect x="685" y="332.6" width="2" height="10.2" fill="#509a55"/>
<rect x="685" y="334.5" width="4" height="3.2" fill="#55a658"/>
<rect x="690" y="331.0" width="4" height="13.5" fill="#fff" fill-opacity="0.8"/>
<rect x="690" y="336.1" width="6" height="4.3" fill="#fff" fill-opacity="0.8"/>
<rect x="691" y="332.0" width="2" height="11.5" fill="#509a55"/>
<rect x="691" y="337.1" width="4" height="2.3" fill="#55a658"/>
<rect x="696" y="329.3" width="4" height="19.7" fill="#fff" fill-opacity="0.8"/>
<rect x="697" y="330.3" width="2" height="17.7" fill="#509a55"/>
<rect x="702" y="320.3" width="4" height="25.8" fill="#fff" fill-opacity="0.8"/>
<rect x="700" y="320.3" width="6" height="22.9" fill="#fff" fill-opacity="0.8"/>
<rect x="703" y="321.3" width="2" height="23.8" fill="#509a55"/>
<rect x="701" y="321.3" width="4" height="20.9" fill="#55a658"/>
<rect x="708" y="300.2" width="4" height="22.5" fill="#fff" fill-opacity="0.8"/>
<rect x="706" y="310.1" width="6" height="12.6" fill="#fff" fill-opacity="0.8"/>
<rect x="709" y="301.2" width="2" height="20.5" fill="#509a55"/>
<rect x="707" y="311.1" width="4" height="10.6" fill="#55a658"/>
<rect x="714" y="298.6" width="4" height="15.8" fill="#fff" fill-opacity="0.8"/>
<rect x="712" y="301.9" width="6" height="8.4" fill="#fff" fill-opacity="0.8"/>
<rect x="715" y="299.6" width="2" height="13.8" fill="#509a55"/>
<rect x="713" y="302.9" width="4" height="6.4" fill="#55a658"/>
<rect x="718" y="309.6" width="4" height="35.5" fill="#fff" fill-opacity="0.8"/>
<rect x="718" y="312.1" width="6" height="29.8" fill="#fff" fill-opacity="0.8"/>
<rect x="719" y="310.6" width="2" height="33.5" fill="#b02a3a"/>
<rect x="719" y="313.1" width="4" height="27.8" fill="#e6202f"/>
<rect x="724" y="326.6" width="4" height="14.8" fill="#fff" fill-opacity="0.8"/>
<rect x="724" y="332.8" width="6" height="8.4" fill="#fff" fill-opacity="0.8"/>
<rect x="725" y="327.6" width="2" height="12.8" fill="#509a55"/>
<rect x="725" y="333.8" width="4" height="6.4" fill="#55a658"/>
<rect x="730" y="326.5" width="4" height="14.0" fill="#fff" fill-opacity="0.8"/>
<rect x="730" y="326.6" width="6" height="7.9" fill="#fff" fill-opacity="0.8"/>
<rect x="731" y="327.5" width="2" height="12.0" fill="#b02a3a"/>
<rect x="731" y="327.6" width="4" height="5.9" fill="#e6202f"/>
<rect x="736" y="322.3" width="4" height="16.3" fill="#fff" fill-opacity="0.8"/>
<rect x="736" y="330.2" width="6" height="7.8" fill="#fff" fill-opacity="0.8"/>
<rect x="737" y="323.3" width="2" height="14.3" fill="#509a55"/>
<rect x="737" y="331.2" width="4" height="5.8" fill="#55a658"/>
<rect x="742" y="335.1" width="4" height="16.3" fill="#fff" fill-opacity="0.8"/>
<rect x="742" y="338.6" width="6" height="12.8" fill="#fff" fill-opacity="0.8"/>
<rect x="743" y="336.1" width="2" height="14.3" fill="#b02a3a"/>
<rect x="743" y="339.6" width="4" height="10.8" fill="#e6202f"/>
<rect x="748" y="346.0" width="4" height="20.1" fill="#fff" fill-opacity="0.8"/>
<rect x="748" y="346.0" width="6" height="19.5" fill="#fff" fill-opacity="0.8"/>
<rect x="749" y="347.0" width="2" height="18.1" fill="#b02a3a"/>
<rect x="749" y="347.0" width="4" height="17.5" fill="#e6202f"/>
<rect x="754" y="358.0" width="4" height="12.0" fill="#fff" fill-opacity="0.8"/>
<rect x="754" y="360.3" width="6" height="9.7" fill="#fff" fill-opacity="0.8"/>
<rect x="755" y="359.0" width="2" height="10.0" fill="#b02a3a"/>
<rect x="755" y="361.3" width="4" height="7.7" fill="#e6202f"/>
<rect x="760" y="351.6" width="4" height="19.0" fill="#fff" fill-opacity="0.8"/>
<rect x="760" y="356.5" width="6" height="13.2" fill="#fff" fill-opacity="0.8"/>
<rect x="761" y="352.6" width="2" height="17.0" fill="#509a55"/>
<rect x="761" y="357.5" width="4" height="11.2" fill="#55a658"/>
<rect x="766" y="351.1" width="4" height="16.7" fill="#fff" fill-opacity="0.8"/>
<rect x="767" y="352.1" width="2" height="14.7" fill="#b02a3a"/>
<rect x="772" y="361.8" width="4" height="12.7" fill="#fff" fill-opacity="0.8"/>
<rect x="770" y="361.8" width="6" height="12.7" fill="#fff" fill-opacity="0.8"/>
<rect x="773" y="362.8" width="2" height="10.7" fill="#b02a3a"/>
<rect x="771" y="362.8" width="4" height="10.7" fill="#e6202f"/>
<rect x="778" y="357.1" width="4" height="17.4" fill="#fff" fill-opacity="0.8"/>
<rect x="776" y="365.4" width="6" height="4.6" fill="#fff" fill-opacity="0.8"/>
<rect x="779" y="358.1" width="2" height="15.4" fill="#509a55"/>
<rect x="777" y="366.4" width="4" height="2.6" fill="#55a658"/>
<rect x="782" y="362.2" width="4" height="9.3" fill="#fff" fill-opacity="0.8"/>
<rect x="782" y="362.2" width="6" height="7.8" fill="#fff" fill-opacity="0.8"/>
<rect x="783" y="363.2" width="2" height="7.3" fill="#b02a3a"/>
<rect x="783" y="363.2" width="4" height="5.8" fill="#e6202f"/>
<rect x="788" y="357.1" width="4" height="14.2" fill="#fff" fill-opacity="0.8"/>
<rect x="788" y="361.0" width="6" height="4.5" fill="#fff" fill-opacity="0.8"/>
<rect x="789" y="358.1" width="2" height="12.2" fill="#b02a3a"/>
<rect x="789" y="362.0" width="4" height="2.5" fill="#e6202f"/>
<rect x="794" y="346.0" width="4" height="17.0" fill="#fff" fill-opacity="0.8"/>
<rect x="794" y="346.9" width="6" height="16.1" fill="#fff" fill-opacity="0.8"/>
<rect x="795" y="347.0" width="2" height="15.0" fill="#509a55"/>
<rect x="795" y="347.9" width="4" height="14.1" fill="#55a658"/>
<rect x="800" y="320.4" width="4" height="36.6" fill="#fff" fill-opacity="0.8"/>
<rect x="800" y="320.4" width="6" height="31.7" fill="#fff" fill-opacity="0.8"/>
<rect x="801" y="321.4" width="2" height="34.6" fill="#509a55"/>
<rect x="801" y="321.4" width="4" height="29.7" fill="#55a658"/>
<rect x="806" y="284.8" width="4" height="24.7" fill="#fff" fill-opacity="0.8"/>
<rect x="806" y="292.7" width="6" height="14.2" fill="#fff" fill-opacity="0.8"/>
<rect x="807" y="285.8" width="2" height="22.7" fill="#509a55"/>
<rect x="807" y="293.7" width="4" height="12.2" fill="#55a658"/>
<rect x="812" y="255.4" width="4" height="22.3" fill="#fff" fill-opacity="0.8"/>
<rect x="812" y="268.7" width="6" height="9.0" fill="#fff" fill-opacity="0.8"/>
<rect x="813" y="256.4" width="2" height="20.3" fill="#509a55"/>
<rect x="813" y="269.7" width="4" height="7.0" fill="#55a658"/>
<rect x="818" y="272.5" width="4" height="17.8" fill="#fff" fill-opacity="0.8"/>
<rect x="818" y="275.5" width="6" height="8.1" fill="#fff" fill-opacity="0.8"/>
<rect x="819" y="273.5" width="2" height="15.8" fill="#509a55"/>
<rect x="819" y="276.5" width="4" height="6.1" fill="#55a658"/>
<rect x="824" y="258.6" width="4" height="19.9" fill="#fff" fill-opacity="0.8"/>
<rect x="824" y="265.2" width="6" height="12.9" fill="#fff" fill-opacity="0.8"/>
<rect x="825" y="259.6" width="2" height="17.9" fill="#509a55"/>
<rect x="825" y="266.2" width="4" height="10.9" fill="#55a658"/>
<rect x="830" y="257.6" width="4" height="13.9" fill="#fff" fill-opacity="0.8"/>
<rect x="830" y="262.0" width="6" height="5.2" fill="#fff" fill-opacity="0.8"/>
<rect x="831" y="258.6" width="2" height="11.9" fill="#509a55"/>
<rect x="831" y="263.0" width="4" height="3.2" fill="#55a658"/>
<rect x="836" y="255.0" width="4" height="21.2" fill="#fff" fill-opacity="0.8"/>
<rect x="834" y="261.4" width="6" height="11.6" fill="#fff" fill-opacity="0.8"/>
<rect x="837" y="256.0" width="2" height="19.2" fill="#b02a3a"/>
<rect x="835" y="262.4" width="4" height="9.6" fill="#e6202f"/>
<rect x="842" y="252.2" width="4" height="22.7" fill="#fff" fill-opacity="0.8"/>
<rect x="840" y="254.1" width="6" height="14.4" fill="#fff" fill-opacity="0.8"/>
<rect x="843" y="253.2" width="2" height="20.7" fill="#509a55"/>
<rect x="841" y="255.1" width="4" height="12.4" fill="#55a658"/>
<rect x="848" y="250.5" width="4" height="16.1" fill="#fff" fill-opacity="0.8"/>
<rect x="846" y="250.9" width="6" height="6.1" fill="#fff" fill-opacity="0.8"/>
<rect x="849" y="251.5" width="2" height="14.1" fill="#b02a3a"/>
<rect x="847" y="251.9" width="4" height="4.1" fill="#e6202f"/>
<rect x="852" y="199.2" width="4" height="29.8" fill="#fff" fill-opacity="0.8"/>
<rect x="852" y="216.8" width="6" height="12.2" fill="#fff" fill-opacity="0.8"/>
<rect x="853" y="200.2" width="2" height="27.8" fill="#509a55"/>
<rect x="853" y="217.8" width="4" height="10.2" fill="#55a658"/>
<rect x="858" y="211.6" width="4" height="17.4" fill="#fff" fill-opacity="0.8"/>
<rect x="858" y="217.4" width="6" height="11.6" fill="#fff" fill-opacity="0.8"/>
<rect x="859" y="212.6" width="2" height="15.4" fill="#b02a3a"/>
<rect x="859" y="218.4" width="4" height="9.6" fill="#e6202f"/>
<rect x="864" y="218.9" width="4" height="11.8" fill="#fff" fill-opacity="0.8"/>
<rect x="864" y="223.5" width="6" height="4.2" fill="#fff" fill-opacity="0.8"/>
<rect x="865" y="219.9" width="2" height="9.8" fill="#509a55"/>
<rect x="865" y="224.5" width="4" height="2.2" fill="#55a658"/>
<rect x="870" y="217.4" width="4" height="8.4" fill="#fff" fill-opacity="0.8"/>
<rect x="870" y="217.4" width="6" height="8.4" fill="#fff" fill-opacity="0.8"/>
<rect x="871" y="218.4" width="2" height="6.4" fill="#b02a3a"/>
<rect x="871" y="218.4" width="4" height="6.4" fill="#e6202f"/>
<rect x="876" y="216.4" width="4" height="16.4" fill="#fff" fill-opacity="0.8"/>
<rect x="876" y="216.4" width="6" height="13.2" fill="#fff" fill-opacity="0.8"/>
<rect x="877" y="217.4" width="2" height="14.4" fill="#509a55"/>
<rect x="877" y="217.4" width="4" height="11.2" fill="#55a658"/>
<rect x="882" y="216.5" width="4" height="12.9" fill="#fff" fill-opacity="0.8"/>
<rect x="882" y="216.5" width="6" height="12.9" fill="#fff" fill-opacity="0.8"/>
<rect x="883" y="217.5" width="2" height="10.9" fill="#b02a3a"/>
<rect x="883" y="217.5" width="4" height="10.9" fill="#e6202f"/>
<rect x="888" y="214.6" width="4" height="14.8" fill="#fff" fill-opacity="0.8"/>
<rect x="888" y="220.0" width="6" height="5.5" fill="#fff" fill-opacity="0.8"/>
<rect x="889" y="215.6" width="2" height="12.8" fill="#b02a3a"/>
<rect x="889" y="221.0" width="4" height="3.5" fill="#e6202f"/>
<rect x="894" y="218.9" width="4" height="9.5" fill="#fff" fill-opacity="0.8"/>
<rect x="894" y="219.7" width="6" height="6.7" fill="#fff" fill-opacity="0.8"/>
<rect x="895" y="219.9" width="2" height="7.5" fill="#509a55"/>
<rect x="895" y="220.7" width="4" height="4.7" fill="#55a658"/>
<rect x="900" y="223.8" width="4" height="9.9" fill="#fff" fill-opacity="0.8"/>
<rect x="901" y="224.8" width="2" height="7.9" fill="#509a55"/>
<rect x="906" y="224.4" width="4" height="11.4" fill="#fff" fill-opacity="0.8"/>
<rect x="904" y="227.6" width="6" height="6.5" fill="#fff" fill-opacity="0.8"/>
<rect x="907" y="225.4" width="2" height="9.4" fill="#b02a3a"/>
<rect x="905" y="228.6" width="4" height="4.5" fill="#e6202f"/>
<rect x="910" y="219.3" width="4" height="10.1" fill="#fff" fill-opacity="0.8"/>
<rect x="910" y="219.3" width="6" height="10.1" fill="#fff" fill-opacity="0.8"/>
<rect x="911" y="220.3" width="2" height="8.1" fill="#b02a3a"/>
<rect x="911" y="220.3" width="4" height="8.1" fill="#e6202f"/>
<rect x="916" y="218.9" width="4" height="19.4" fill="#fff" fill-opacity="0.8"/>
<rect x="916" y="218.9" width="6" height="12.7" fill="#fff" fill-opacity="0.8"/>
<rect x="917" y="219.9" width="2" height="17.4" fill="#509a55"/>
<rect x="917" y="219.9" width="4" height="10.7" fill="#55a658"/>
<rect x="922" y="196.9" width="4" height="24.8" fill="#fff" fill-opacity="0.8"/>
<rect x="922" y="196.9" width="6" height="24.8" fill="#fff" fill-opacity="0.8"/>
<rect x="923" y="197.9" width="2" height="22.8" fill="#509a55"/>
<rect x="923" y="197.9" width="4" height="22.8" fill="#55a658"/>
<rect x="928" y="195.4" width="4" height="11.2" fill="#fff" fill-opacity="0.8"/>
<rect x="928" y="197.6" width="6" height="6.4" fill="#fff" fill-opacity="0.8"/>
<rect x="929" y="196.4" width="2" height="9.2" fill="#509a55"/>
<rect x="929" y="198.6" width="4" height="4.4" fill="#55a658"/>
<rect x="934" y="194.4" width="4" height="11.2" fill="#fff" fill-opacity="0.8"/>
<rect x="934" y="195.0" width="6" height="3.9" fill="#fff" fill-opacity="0.8"/>
<rect x="935" y="195.4" width="2" height="9.2" fill="#509a55"/>
<rect x="935" y="196.0" width="4" height="1.9" fill="#55a658"/>
<rect x="940" y="163.8" width="4" height="30.7" fill="#fff" fill-opacity="0.8"/>
<rect x="940" y="173.2" width="6" height="16.6" fill="#fff" fill-opacity="0.8"/>
<rect x="941" y="164.8" width="2" height="28.7" fill="#509a55"/>
<rect x="941" y="174.2" width="4" height="14.6" fill="#55a658"/>
<rect x="946" y="160.4" width="4" height="16.7" fill="#fff" fill-opacity="0.8"/>
<rect x="946" y="160.4" width="6" height="16.7" fill="#fff" fill-opacity="0.8"/>
<rect x="947" y="161.4" width="2" height="14.7" fill="#509a55"/>
<rect x="947" y="161.4" width="4" height="14.7" fill="#55a658"/>
<rect x="952" y="145.4" width="4" height="22.7" fill="#fff" fill-opacity="0.8"/>
<rect x="952" y="146.3" width="6" height="21.8" fill="#fff" fill-opacity="0.8"/>
<rect x="953" y="146.4" width="2" height="20.7" fill="#509a55"/>
<rect x="953" y="147.3" width="4" height="19.8" fill="#55a658"/>
<rect x="958" y="143.3" width="4" height="16.9" fill="#fff" fill-opacity="0.8"/>
<rect x="958" y="147.2" width="6" height="7.5" fill="#fff" fill-opacity="0.8"/>
<rect x="959" y="144.3" width="2" height="14.9" fill="#509a55"/>
<rect x="959" y="148.2" width="4" height="5.5" fill="#55a658"/>
<rect x="964" y="139.2" width="4" height="13.6" fill="#fff" fill-opacity="0.8"/>
<rect x="964" y="141.2" width="6" height="9.0" fill="#fff" fill-opacity="0.8"/>
<rect x="965" y="140.2" width="2" height="11.6" fill="#509a55"/>
<rect x="965" y="142.2" width="4" height="7.0" fill="#55a658"/>
</g>
<g stroke="#000" stroke-width="2.4" stroke-dasharray="8 8" fill="none">
<line x1="25" y1="92.9" x2="969" y2="92.9"/>
<line x1="25" y1="196.9" x2="969" y2="196.9"/>
</g>
<g stroke="#222" stroke-width="2" fill="none" shape-rendering="crispEdges">
<path d="M24.4,515H970V524" shape-rendering="auto"/>
<line x1="970" y1="46" x2="970" y2="516"/>
<line x1="54" y1="515" x2="54" y2="524"/>
<line x1="182" y1="515" x2="182" y2="524"/>
<line x1="306" y1="515" x2="306" y2="524"/>
<line x1="422" y1="515" x2="422" y2="524"/>
<line x1="556" y1="515" x2="556" y2="524"/>
<line x1="672" y1="515" x2="672" y2="524"/>
<line x1="800" y1="515" x2="800" y2="524"/>
<line x1="922" y1="515" x2="922" y2="524"/>
<line x1="970" y1="147" x2="979" y2="147"/>
<line x1="970" y1="269" x2="979" y2="269"/>
<line x1="970" y1="391" x2="979" y2="391"/>
<line x1="970" y1="513" x2="979" y2="513"/>
</g>
<g opacity="0.999">
<text transform="translate(985.46,155.3) scale(1.1216,1.03)">140</text>
<text transform="translate(985.46,277.3) scale(1.1216,1.03)">120</text>
<text transform="translate(985.46,399.3) scale(1.1216,1.03)">100</text>
<text transform="translate(985.10,521.3) scale(1.1000,1.03)">80</text>
<g>
<text transform="translate(13.46,550.7) scale(1.0701,1.03)">mag 23</text>
<text transform="translate(148.69,550.7) scale(1.1079,1.03)">giu 23</text>
<text transform="translate(270.16,550.7) scale(1.1194,1.03)">lug 23</text>
<text transform="translate(383.91,550.7) scale(1.0944,1.03)">ago 23</text>
<text transform="translate(521.38,550.7) scale(1.1175,1.03)">set 23</text>
<text transform="translate(639.76,550.7) scale(1.1414,1.03)">ott 23</text>
<text transform="translate(762.62,550.7) scale(1.0899,1.03)">nov 23</text>
<text transform="translate(889.40,550.7) scale(1.1048,1.03)">dic 23</text>
</g>
<rect x="8" y="530" width="8.6" height="22" fill="#fdfdfd"/>
<rect x="979" y="73" width="91.5" height="36.7" fill="#000"/>
<text class="b" transform="translate(987.57,102.2) scale(1.1157,1.03)">149,07</text>
<rect x="979" y="178" width="89.6" height="36.2" fill="#000"/>
<text class="b" transform="translate(987.34,206.5) scale(1.1286,1.03)">131,93</text>
</g>
</svg></body></html>
